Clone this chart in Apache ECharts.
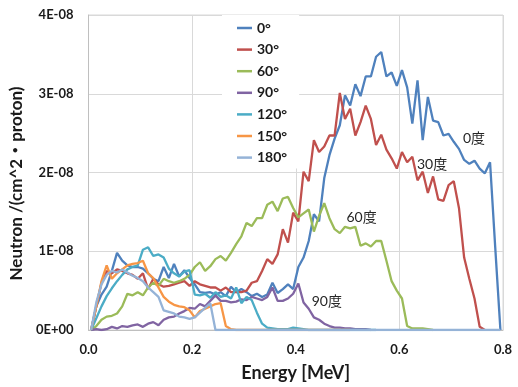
<!DOCTYPE html>
<html>
<head>
<meta charset="utf-8">
<script src="https://cdn.jsdelivr.net/npm/echarts@6/dist/echarts.min.js"></script>
<style>
html,body{margin:0;padding:0;background:#fff;}
#c{width:518px;height:387px;}
</style>
</head>
<body>
<div id="c"></div>
<script>
// Energy bin centres [MeV]
const energy = [0.005,0.015,0.025,0.035,0.045,0.055,0.065,0.075,0.085,0.095,
0.105,0.115,0.125,0.135,0.145,0.155,0.165,0.175,0.185,0.195,
0.205,0.215,0.225,0.235,0.245,0.255,0.265,0.275,0.285,0.295,
0.305,0.315,0.325,0.335,0.345,0.355,0.365,0.375,0.385,0.395,
0.405,0.415,0.425,0.435,0.445,0.455,0.465,0.475,0.485,0.495,
0.505,0.515,0.525,0.535,0.545,0.555,0.565,0.575,0.585,0.595,
0.605,0.615,0.625,0.635,0.645,0.655,0.665,0.675,0.685,0.695,
0.705,0.715,0.725,0.735,0.745,0.755,0.765,0.775,0.785,0.795];

// Neutron values in units of 1E-08 /(cm^2·proton)
const deg0 = [0,0.3,0.45,0.55,0.75,0.98,0.88,0.82,0.8,0.8,
0.78,0.72,0.65,0.62,0.8,0.66,0.84,0.68,0.76,0.66,
0.58,0.48,0.47,0.48,0.45,0.48,0.43,0.55,0.48,0.52,
0.48,0.43,0.46,0.42,0.45,0.6,0.47,0.52,0.58,0.52,
0.8,0.92,1.13,1.47,1.38,1.93,2.22,2.43,2.6,2.98,
2.85,3.12,2.97,3.22,3.22,3.47,3.53,3.22,3.27,3.1,
3.3,3.08,2.62,3.17,2.41,2.96,2.66,2.64,2.47,2.49,
2.39,2.3,2.16,2.11,2.15,2.05,1.99,2.13,1.05,0];
const deg30 = [0,0.3,0.6,0.75,0.72,0.77,0.75,0.72,0.7,0.65,
0.72,0.52,0.65,0.58,0.55,0.56,0.58,0.6,0.62,0.56,
0.62,0.58,0.56,0.54,0.54,0.5,0.54,0.48,0.48,0.48,
0.5,0.6,0.62,0.75,0.9,0.84,0.96,1.28,1.11,1.49,
1.38,2.01,1.89,2.41,2.26,2.33,2.47,2.47,3.01,2.68,
2.81,2.47,2.64,2.85,2.68,2.35,2.48,2.29,2.18,2.05,
2.26,2.13,2.2,1.9,2.01,1.74,1.95,1.66,1.64,1.84,
1.89,1.55,0.92,0.65,0.4,0.04,0];
const deg60 = [0,0.05,0.13,0.17,0.18,0.21,0.3,0.46,0.44,0.48,
0.44,0.54,0.6,0.56,0.65,0.62,0.6,0.62,0.65,0.7,
0.8,0.86,0.75,0.81,0.9,0.94,0.88,0.98,1.09,1.19,
1.36,1.32,1.42,1.42,1.59,1.63,1.51,1.67,1.69,1.55,
1.43,1.48,1.53,1.25,1.45,1.61,1.42,1.28,1.23,1.31,
1.29,1.31,1.07,1.1,1.06,1.13,1.13,0.88,0.62,0.5,
0.4,0.05,0.02,0.02,0.02,0.01,0];
const deg90 = [0,0.01,0,0.01,0.04,0.02,0.05,0.04,0.06,0.07,
0.04,0.08,0.1,0.06,0.13,0.16,0.17,0.21,0.24,0.28,
0.27,0.33,0.3,0.37,0.44,0.37,0.37,0.35,0.36,0.39,
0.38,0.42,0.4,0.38,0.42,0.54,0.37,0.37,0.4,0.46,
0.59,0.35,0.27,0.16,0.13,0.08,0.05,0.03,0.03,0.02,
0.02,0.01,0.01,0.01,0];
const deg120 = [0,0.15,0.3,0.43,0.53,0.62,0.7,0.77,0.8,0.82,
1.02,1.05,0.94,0.96,0.92,0.78,0.72,0.68,0.74,0.76,
0.45,0.44,0.46,0.41,0.48,0.42,0.44,0.4,0.54,0.34,
0.42,0.38,0.22,0.08,0.03,0.02,0.01,0.01,0.01,0.03,
0.02,0.01,0,0,0,0,0,0,0,0,
0,0,0,0,0,0];
const deg150 = [0,0.3,0.62,0.82,0.65,0.72,0.77,0.82,0.84,0.85,
0.88,0.72,0.66,0.54,0.42,0.36,0.32,0.3,0.29,0.25,
0.16,0.24,0.27,0.3,0.33,0.34,0.05,0.01,0,0,
0,0,0,0,0,0,0,0,0,0,
0,0,0,0,0,0,0,0,0,0,0];
const deg180 = [0,0.35,0.58,0.7,0.75,0.73,0.77,0.73,0.69,0.66,
0.62,0.54,0.48,0.42,0.25,0.23,0.21,0.17,0.16,0.14,
0.16,0.22,0.28,0.34,0,0,0,0,0,0,
0,0,0,0,0,0,0,0,0,0,
0,0,0,0,0,0,0,0,0,0,
0,0,0,0,0,0,0,0,0,0,
0,0,0,0,0,0,0,0,0,0,
0,0,0,0,0,0,0,0,0,0];

const seriesNames = ['0°','30°','60°','90°','120°','150°','180°'];
const seriesValues = [deg0,deg30,deg60,deg90,deg120,deg150,deg180];
const yTickLabels = ['0E+00','1E-08','2E-08','3E-08','4E-08'];
const xTickLabels = ['0.0','0.2','0.4','0.6','0.8'];
const annotationTexts = ['0度','30度','60度','90度'];

const colors = ['#4F81BD','#C0504D','#9BBB59','#8064A2','#4BACC6','#F79646','#95B3D7'];
const annotationAnchors = [[0.744,2.43],[0.663,2.10],[0.527,1.43],[0.46,0.36]];

const FONT = 'Lato, "Open Sans", "Noto Sans CJK JP", sans-serif';

const chart = echarts.init(document.getElementById('c'), null, {renderer:'canvas'});

const series = seriesNames.map((name, i) => {
  const s = {
    name: name,
    type: 'line',
    symbol: 'none',
    showSymbol: false,
    smooth: false,
    data: seriesValues[i].map((v, k) => [energy[k], v]),
    lineStyle: {width: 2.3, color: colors[i]},
    itemStyle: {color: colors[i]},
    z: 2 + i,
    emphasis: {disabled: true},
    silent: true
  };
  if (i < 4) {
    s.markPoint = {
      silent: true,
      symbol: 'rect',
      symbolSize: 0,
      data: [{
        coord: annotationAnchors[i],
        label: {
          show: true,
          position: 'inside',
          formatter: annotationTexts[i],
          color: '#262626',
          fontSize: 14,
          fontFamily: FONT
        }
      }]
    };
  }
  return s;
});

chart.setOption({
  animation: false,
  color: colors,
  grid: {left: 87, right: 15, top: 15, bottom: 54, show: true, borderColor: '#d9d9d9', borderWidth: 1, containLabel: false},
  legend: {
    orient: 'vertical',
    left: 222,
    top: 15,
    width: 81,
    padding: [6, 12, 4, 15],
    itemGap: 7.6,
    itemWidth: 15,
    itemHeight: 14,
    backgroundColor: '#ffffff',
    z: 10,
    icon: 'path://M0,6 L15,6 L15,8.5 L0,8.5 Z',
    data: seriesNames,
    textStyle: {fontFamily: FONT, fontWeight: 'bold', fontSize: 14, color: '#1a1a1a', lineHeight: 14}
  },
  xAxis: {
    type: 'value',
    min: 0, max: 0.8, interval: 0.2,
    name: 'Energy [MeV]',
    nameLocation: 'middle',
    nameGap: 34,
    nameTextStyle: {fontFamily: FONT, fontWeight: 'bold', fontSize: 18, color: '#1a1a1a'},
    axisLine: {show: true, lineStyle: {color: '#bfbfbf'}},
    axisTick: {show: false},
    axisLabel: {
      margin: 13,
      fontFamily: FONT, fontWeight: 'bold', fontSize: 13, color: '#1a1a1a',
      formatter: v => xTickLabels[Math.round(v / 0.2)]
    },
    splitLine: {show: true, lineStyle: {color: '#d9d9d9'}}
  },
  yAxis: {
    type: 'value',
    min: 0, max: 4, interval: 1,
    name: 'Neutron /(cm^2・proton)',
    nameLocation: 'middle',
    nameGap: 54,
    nameTextStyle: {fontFamily: FONT, fontWeight: 'bold', fontSize: 17, color: '#1a1a1a', padding: [0, 22, 0, 0]},
    axisLine: {show: true, lineStyle: {color: '#bfbfbf'}},
    axisTick: {show: false},
    axisLabel: {
      margin: 15,
      fontFamily: FONT, fontWeight: 'bold', fontSize: 13, color: '#1a1a1a',
      formatter: v => yTickLabels[Math.round(v)]
    },
    splitLine: {show: true, lineStyle: {color: '#d9d9d9'}}
  },
  series: series
});
</script>
</body>
</html>
